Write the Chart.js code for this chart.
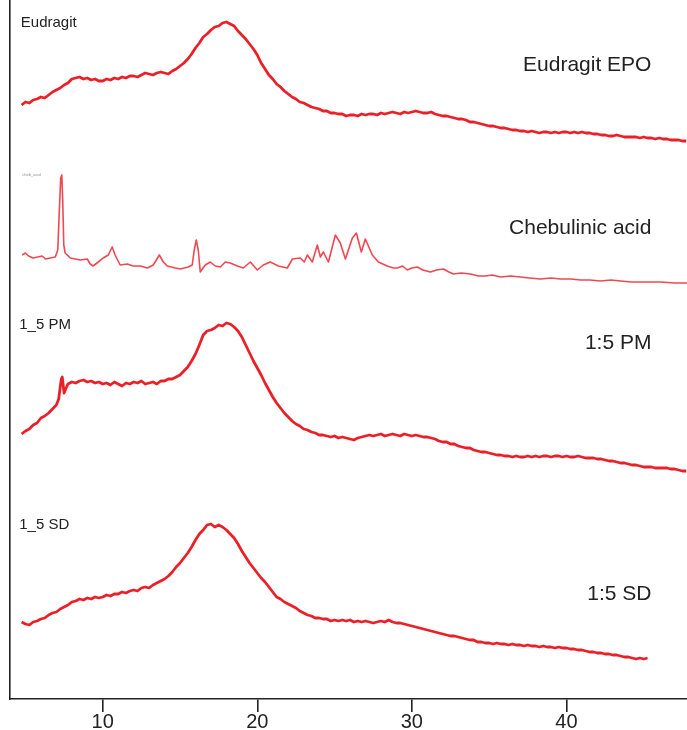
<!DOCTYPE html>
<html>
<head>
<meta charset="utf-8">
<script src="https://cdn.jsdelivr.net/npm/chart.js@4.4.1/dist/chart.umd.min.js"></script>
<style>
  html, body { margin: 0; padding: 0; background: #fff; }
  #wrap { width: 687px; height: 730px; position: relative; }
</style>
</head>
<body>
<div id="wrap"><canvas id="xrd"></canvas></div>
<script>
// 2-theta tick labels
const xTicks = [10, 20, 30, 40];

// common 2-theta grid (deg), step 0.25
const grid = [4.75,
  5, 5.25, 5.5, 5.75, 6, 6.25, 6.5, 6.75, 7, 7.25, 7.5, 7.75, 8, 8.25, 8.5, 8.75, 9, 9.25, 9.5, 9.75,
  10, 10.25, 10.5, 10.75, 11, 11.25, 11.5, 11.75, 12, 12.25, 12.5, 12.75, 13, 13.25, 13.5, 13.75, 14, 14.25, 14.5, 14.75,
  15, 15.25, 15.5, 15.75, 16, 16.25, 16.5, 16.75, 17, 17.25, 17.5, 17.75, 18, 18.25, 18.5, 18.75, 19, 19.25, 19.5, 19.75,
  20, 20.25, 20.5, 20.75, 21, 21.25, 21.5, 21.75, 22, 22.25, 22.5, 22.75, 23, 23.25, 23.5, 23.75, 24, 24.25, 24.5, 24.75,
  25, 25.25, 25.5, 25.75, 26, 26.25, 26.5, 26.75, 27, 27.25, 27.5, 27.75, 28, 28.25, 28.5, 28.75, 29, 29.25, 29.5, 29.75,
  30, 30.25, 30.5, 30.75, 31, 31.25, 31.5, 31.75, 32, 32.25, 32.5, 32.75, 33, 33.25, 33.5, 33.75, 34, 34.25, 34.5, 34.75,
  35, 35.25, 35.5, 35.75, 36, 36.25, 36.5, 36.75, 37, 37.25, 37.5, 37.75, 38, 38.25, 38.5, 38.75, 39, 39.25, 39.5, 39.75,
  40, 40.25, 40.5, 40.75, 41, 41.25, 41.5, 41.75, 42, 42.25, 42.5, 42.75, 43, 43.25, 43.5, 43.75, 44, 44.25, 44.5, 44.75,
  45, 45.25, 45.5, 45.75, 46, 46.25, 46.5, 46.75, 47, 47.25, 47.5, 47.75];

// Eudragit EPO (intensity above its own baseline, a.u.), on grid
const eudInt = [40,
  43, 42, 45, 46,  48, 47, 50, 53,  55, 57, 60, 62,  66, 67, 68, 66,  67, 65, 66, 64,
  64, 66, 65, 67,  66, 68, 67, 69,  69, 68, 70, 72,  71, 70, 72, 73,  72, 71, 74, 76,
  79, 82, 86, 91,  97, 102, 108, 111,  115, 118, 119, 122,  123, 121, 119, 114,  110, 106, 101, 96,
  90, 82, 76, 70,  66, 61, 58, 54,  51, 48, 46, 43,  42, 40, 38, 37,  36, 34, 34, 32,
  32, 31, 31, 29,  30, 30, 29, 31,  30, 31, 31, 30,  32, 31, 32, 33,  32, 31, 33, 32,
  33, 34, 33, 32,  32, 33, 31, 30,  29, 29, 28, 27,  26, 26, 25, 23,  23, 22, 21, 20,
  19, 19, 18, 17,  17, 16, 15, 15,  14, 14, 13, 14,  13, 12, 13, 13,  12, 13, 12, 13,
  13, 12, 13, 12,  13, 12, 12, 11,  11, 10, 10, 9,  9, 10, 9, 8,  8, 8, 8, 7,
  8, 7, 7, 6,  7, 6, 6, 5,  5, 5, 4, 4];

// Chebulinic acid
const chebTheta = [4.79, 5.0, 5.2, 5.5, 5.8, 6.08, 6.3, 6.6, 6.93, 7.09, 7.18, 7.28, 7.35, 7.41, 7.48, 7.57, 7.9, 8.54, 9.0, 9.19, 9.38, 9.71,
  10.03, 10.36, 10.61, 10.8, 11.13, 11.59, 11.97, 12.43, 12.88, 13.27, 13.66, 13.92, 14.17, 14.69, 15.02, 15.53, 15.79, 15.92, 16.05, 16.18, 16.31, 16.63, 16.96,
  17.28, 17.61, 17.93, 18.25, 18.71, 19.09, 19.55, 20.0, 20.39, 20.84, 21.36, 21.94, 22.27, 22.78, 23.04, 23.24, 23.56, 23.88, 24.08, 24.27, 24.6,
  25.05, 25.37, 25.7, 26.15, 26.41, 26.73, 26.99, 27.44, 27.83, 28.41, 28.8, 29.06, 29.4, 29.71, 30.0, 30.36, 30.7, 31.2, 31.6, 32.04, 32.4, 32.69,
  33.2, 33.79, 34.3, 34.76, 35.2, 35.73, 36.4, 37.02, 37.6, 38.32, 39.0, 39.61, 40.3, 40.91, 41.5, 42.2, 42.9, 43.5, 44.2, 44.8, 45.5, 46.1, 47.0, 47.8];
const chebInt = [35, 37, 34, 32, 33, 34, 31, 32, 33, 40, 75, 112, 115, 90, 45, 37, 32, 30, 31, 26, 24, 28,
  32, 35, 43, 35, 25, 26, 24, 24, 22, 25, 35, 28, 24, 22, 21, 23, 25, 40, 50, 40, 18, 25, 28,
  24, 23, 28, 27, 24, 22, 28, 20, 25, 28, 24, 22, 31, 32, 28, 35, 28, 45, 33, 38, 28,
  55, 47, 31, 52, 57, 38, 51, 35, 28, 24, 22, 22, 24, 20, 22, 23, 20, 18, 20, 21, 18, 16,
  17, 16, 14, 14, 15, 13, 14, 13, 12, 11, 12, 11, 11, 10, 10, 9, 10, 9, 8, 8, 8, 8, 7, 7];

// 1:5 physical mixture: fine points around the 7.4 deg reflex, then the grid from 8 deg
const pmThetaStart = [4.75, 5.0, 5.25, 5.5, 5.75, 6.0, 6.25, 6.5, 6.75, 7.0, 7.15, 7.25, 7.32, 7.38, 7.44, 7.5, 7.6, 7.75];
const pmIntStart   = [41, 44, 46, 50, 52, 57, 59, 62, 66, 70, 76, 88, 96, 98, 90, 82, 86, 91];
const pmInt = [
  93, 92, 94, 95,  93, 94, 92, 93,
  91, 92, 90, 93,  91, 89, 92, 91,  93, 92, 94, 91,  92, 93, 91, 94,  94, 96, 96, 98,
  100, 104, 108, 114,  121, 130, 140, 144,  145, 147, 150, 149,  152, 151, 148, 144,  138, 130, 122, 114,
  107, 100, 92, 85,  78, 72, 67, 62,  58, 54, 51, 49,  46, 45, 43, 42,  40, 40, 39, 38,
  39, 37, 38, 37,  36, 35, 37, 38,  39, 40, 39, 40,  41, 39, 40, 41,  40, 39, 41, 40,
  39, 40, 39, 38,  38, 37, 36, 34,  33, 33, 31, 31,  29, 28, 27, 27,  25, 24, 23, 23,
  22, 21, 20, 20,  19, 19, 18, 19,  18, 18, 19, 18,  19, 18, 19, 19,  18, 19, 19, 18,
  19, 18, 18, 19,  18, 17, 17, 17,  16, 16, 15, 14,  14, 13, 12, 12,  11, 10, 10, 9,
  8, 8, 8, 7,  7, 7, 7, 6,  6, 5, 4, 4];

// 1:5 spray dried, on grid (ends at 45.25 deg)
const sdInt = [43,
  41, 40, 43, 44,  46, 47, 50, 52,  53, 56, 58, 60,  63, 64, 66, 65,  67, 66, 68, 67,
  68, 70, 69, 71,  71, 73, 72, 74,  75, 74, 77, 78,  77, 80, 82, 84,  86, 89, 93, 98,
  102, 107, 112, 118,  125, 131, 135, 140,  141, 138, 140, 138,  135, 131, 127, 121,  114, 108, 102, 97,
  92, 87, 83, 78,  73, 68, 66, 63,  61, 59, 57, 54,  52, 50, 49, 47,  47, 46, 46, 44,
  45, 44, 45, 44,  45, 43, 44, 43,  44, 43, 42, 43,  44, 43, 45, 43,  42, 42, 41, 40,
  39, 38, 37, 36,  35, 34, 33, 32,  31, 30, 29, 29,  28, 27, 26, 25,  25, 23, 23, 22,
  22, 21, 22, 21,  21, 20, 21, 20,  20, 19, 20, 19,  19, 18, 19, 18,  18, 17, 18, 17,
  17, 16, 16, 15,  15, 14, 13, 13,  12, 12, 11, 11,  10, 10, 9, 8,  8, 7, 6, 7,
  6, 7];

// vertical offsets of the stacked patterns
const offsets = { eud: 554, cheb: 409, pm: 224, sd: 34 };

const red = 'rgb(234, 32, 40)';

function series(theta, vals, off) {
  return vals.map((v, i) => ({ x: theta[i], y: v + off }));
}

const pmTheta = pmThetaStart.concat(grid.slice(grid.indexOf(8)));
const pmAll = pmIntStart.concat(pmInt);

// text labels (data coordinates)
const labels = [
  { text: 'Eudragit EPO', x: 45.5, y: 628, size: 21, align: 'right' },
  { text: 'Chebulinic acid', x: 45.5, y: 465, size: 21, align: 'right' },
  { text: '1:5 PM', x: 45.5, y: 350, size: 21, align: 'right' },
  { text: '1:5 SD', x: 45.5, y: 99, size: 21, align: 'right' },
  { text: 'Eudragit', x: 4.7, y: 672, size: 15, align: 'left' },
  { text: '1_5 PM', x: 4.6, y: 370, size: 15, align: 'left' },
  { text: '1_5 SD', x: 4.6, y: 170, size: 15, align: 'left' }
];

const textPlugin = {
  id: 'textLabels',
  afterDatasetsDraw(chart) {
    const { ctx, scales } = chart;
    ctx.save();
    ctx.fillStyle = '#222';
    ctx.textBaseline = 'alphabetic';
    labels.forEach(l => {
      ctx.font = l.size + 'px "Liberation Sans", Arial, sans-serif';
      ctx.textAlign = l.align;
      ctx.fillText(l.text, scales.x.getPixelForValue(l.x), scales.y.getPixelForValue(l.y));
    });
    // tiny grey caption left of the chebulinic acid pattern
    ctx.font = '4px "Liberation Sans", sans-serif';
    ctx.fillStyle = '#888';
    ctx.textAlign = 'left';
    ctx.fillText('cheb_acid', scales.x.getPixelForValue(4.8), scales.y.getPixelForValue(523));
    ctx.restore();
  }
};

new Chart(document.getElementById('xrd'), {
  type: 'line',
  data: {
    datasets: [
      { label: 'Eudragit EPO', data: series(grid, eudInt, offsets.eud), borderColor: red, borderWidth: 2.8 },
      { label: 'Chebulinic acid', data: series(chebTheta, chebInt, offsets.cheb), borderColor: 'rgba(236, 40, 50, 0.85)', borderWidth: 1.6 },
      { label: '1:5 PM', data: series(pmTheta, pmAll, offsets.pm), borderColor: red, borderWidth: 2.8 },
      { label: '1:5 SD', data: series(grid, sdInt, offsets.sd), borderColor: red, borderWidth: 2.8 }
    ]
  },
  options: {
    responsive: true,
    maintainAspectRatio: false,
    animation: false,
    elements: { point: { radius: 0 }, line: { tension: 0, borderJoinStyle: 'round' } },
    layout: { padding: { left: 10, right: 0, top: 0, bottom: -2 } },
    plugins: { legend: { display: false }, tooltip: { enabled: false } },
    scales: {
      x: {
        type: 'linear',
        min: 4,
        max: 47.8,
        afterBuildTicks: axis => { axis.ticks = xTicks.map(v => ({ value: v })); },
        grid: { drawOnChartArea: false, drawTicks: true, tickLength: 13, color: '#222', lineWidth: 1.6 },
        border: { display: true, color: '#222', width: 1.6 },
        ticks: { color: '#222', padding: 2, font: { family: '"Liberation Sans", Arial, sans-serif', size: 20, lineHeight: 0.8 } }
      },
      y: {
        type: 'linear',
        min: 0,
        max: 699,
        ticks: { display: false },
        grid: { display: false, drawTicks: false },
        border: { display: true, color: '#222', width: 1.6 }
      }
    }
  },
  plugins: [textPlugin]
});
</script>
</body>
</html>
